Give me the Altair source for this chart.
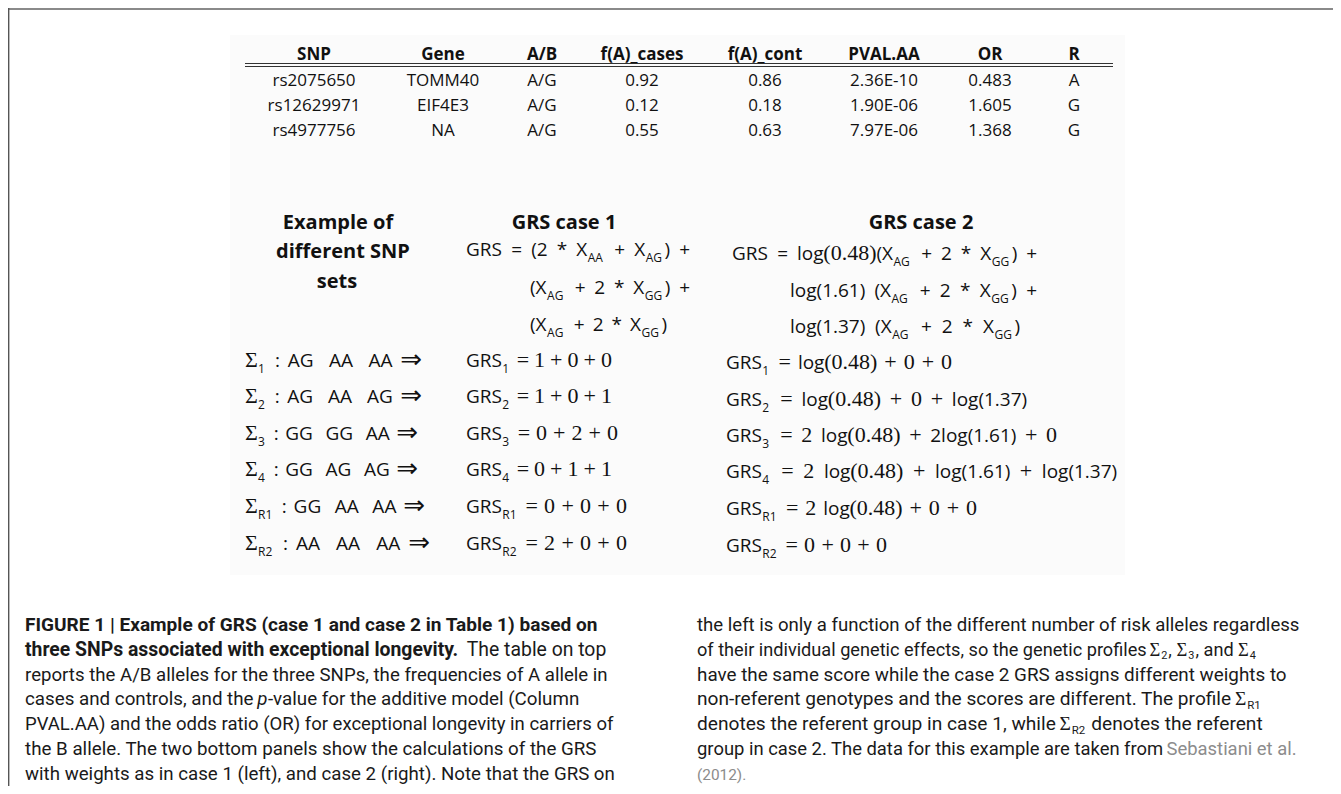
import re
import altair as alt
import pandas as pd

# ---------------- content ----------------
table_header = ["SNP", "Gene", "A/B", "f(A)_cases", "f(A)_cont", "PVAL.AA", "OR", "R"]
snp = ["rs2075650", "rs12629971", "rs4977756"]
gene = ["TOMM40", "EIF4E3", "NA"]
alleles = ["A/G", "A/G", "A/G"]
freq_cases = ["0.92", "0.12", "0.55"]
freq_cont = ["0.86", "0.18", "0.63"]
pval_aa = ["2.36E-10", "1.90E-06", "7.97E-06"]
odds_ratio = ["0.483", "1.605", "1.368"]
risk_allele = ["A", "G", "G"]

left_heading = ["Example of", "different SNP", "sets"]
case_titles = ["GRS case 1", "GRS case 2"]
case1_formula = ["GRS = (2 * X_{AA} + X_{AG}) +",
                 "(X_{AG} + 2 * X_{GG}) +",
                 "(X_{AG} + 2 * X_{GG})"]
case2_formula = ["GRS = log^r(0.48)^s(X_{AG} + 2 * X_{GG}) +",
                 "log(1.61) (X_{AG} + 2 * X_{GG}) +",
                 "log(1.37) (X_{AG} + 2 * X_{GG})"]
snp_sets = ["^rΣ^s_{1} : AG  AA  AA ^a⇒",
            "^rΣ^s_{2} : AG  AA  AG ^a⇒",
            "^rΣ^s_{3} : GG  GG  AA ^a⇒",
            "^rΣ^s_{4} : GG  AG  AG ^a⇒",
            "^rΣ^s_{R1} : GG  AA  AA ^a⇒",
            "^rΣ^s_{R2} : AA  AA  AA ^a⇒"]
grs_case1 = ["GRS_{1} ^r= 1 + 0 + 0",
             "GRS_{2} ^r= 1 + 0 + 1",
             "GRS_{3} ^r= 0 + 2 + 0",
             "GRS_{4} ^r= 0 + 1 + 1",
             "GRS_{R1} ^r= 0 + 0 + 0",
             "GRS_{R2} ^r= 2 + 0 + 0"]
grs_case2 = ["GRS_{1} ^r= ^slog^r(0.48) + 0 + 0",
             "GRS_{2} ^r= ^slog^r(0.48) + 0 + ^slog(1.37)",
             "GRS_{3} ^r= 2 ^slog^r(0.48) + ^s2log(1.61) ^r+ 0",
             "GRS_{4} ^r= 2 ^slog^r(0.48) + ^slog(1.61) ^r+ ^slog(1.37)",
             "GRS_{R1} ^r= 2 ^slog^r(0.48) + 0 + 0",
             "GRS_{R2} ^r= 0 + 0 + 0"]

caption_left = [
    [("FIGURE 1 | Example of GRS (case 1 and case 2 in Table 1) based on", "b")],
    [("three SNPs associated with exceptional longevity.", "b"), (" The table on top", "n")],
    [("reports the A/B alleles for the three SNPs, the frequencies of A allele in", "n")],
    [("cases and controls, and the ", "n"), ("p", "i"), ("-value for the additive model (Column", "n")],
    [("PVAL.AA) and the odds ratio (OR) for exceptional longevity in carriers of", "n")],
    [("the B allele. The two bottom panels show the calculations of the GRS", "n")],
    [("with weights as in case 1 (left), and case 2 (right). Note that the GRS on", "n")],
]
caption_right = [
    [("the left is only a function of the different number of risk alleles regardless", "n")],
    [("of their individual genetic effects, so the genetic profiles ", "n"), ("Σ", "S"), ("2", "u"),
     (", ", "n"), ("Σ", "S"), ("3", "u"), (", and ", "n"), ("Σ", "S"), ("4", "u")],
    [("have the same score while the case 2 GRS assigns different weights to", "n")],
    [("non-referent genotypes and the scores are different. The profile ", "n"), ("Σ", "S"), ("R1", "u")],
    [("denotes the referent group in case 1, while ", "n"), ("Σ", "S"), ("R2", "u"),
     (" denotes the referent", "n")],
    [("group in case 2. The data for this example are taken from ", "n"), ("Sebastiani et al.", "g")],
    [("(2012).", "g")],
]

# ---------------- layout (page pixel space) ----------------
W, H = 1325, 778
X0, Y0 = 8, 8
TABLE_COL_X = [314, 443, 542, 642, 765, 884, 990, 1074]
TABLE_HEADER_Y = 60
TABLE_ROW_Y = [86, 111, 136]
HEAD_LEFT_POS = [(338, 229), (343, 258), (337, 288)]
CASE_TITLE_POS = [(564, 229), (921, 229)]
CASE1_POS = [(466, 256, 690), (530, 294, 690), (530, 331, 667)]
CASE2_POS = [(732, 260, 1037), (790, 297, 1037), (790, 333, 1020)]
ROW_Y_L = [367, 403, 440, 476, 513, 550]
ROW_Y_R = [369, 406, 442, 478, 515, 552]
SETS_X0, SETS_END = 245, [422, 422, 418, 418, 425, 430]
C1_X0, C1_END = 466, [612, 612, 618, 612, 627, 627]
C2_X0, C2_END = 726, [952, 1027, 1057, 1117, 977, 887]
CAP_Y = [631 + 24.8 * i for i in range(7)]
CAP_L = (25, [610, 606, 606, 578, 614, 595, 614])
CAP_R = (697, [1296, 1257, 1285, 1262, 1262, 1296, 747])
CAP_CORR = 1.016   # measured/estimated width ratio for Roboto
SUB_PAD = 2.5      # space after a subscript

# ---------------- width tables (em) ----------------
OPEN = {' ': .26, '(': .293, ')': .293, '*': .552, '+': .571, '.': .266, ':': .266, '=': .571,
        'A': .633, 'G': .726, 'R': .631, 'S': .55, 'X': .604, 'l': .253, 'o': .604, 'g': .53,
        '⇒': .838, 'Σ': .6}
SERIF = {' ': .25, '(': .333, ')': .333, '+': .564, '.': .25, '=': .564, 'Σ': .592,
         'l': .278, 'o': .5, 'g': .5}
ARROW = {'⇒': .838}
for d in "0123456789":
    OPEN[d] = .572
    SERIF[d] = .5

_rob = {'a': 1089, 'b': 1120, 'c': 1045, 'd': 1126, 'e': 1058, 'f': 693, 'g': 1120, 'h': 1100,
        'i': 485, 'j': 477, 'k': 1012, 'l': 485, 'm': 1751, 'n': 1102, 'o': 1140, 'p': 1120,
        'q': 1130, 'r': 677, 's': 1030, 't': 655, 'u': 1101, 'v': 967, 'w': 1502, 'x': 991,
        'y': 946, 'z': 991, 'A': 1336, 'B': 1275, 'C': 1333, 'D': 1343, 'E': 1164, 'F': 1132,
        'G': 1395, 'H': 1460, 'I': 557, 'J': 1130, 'K': 1285, 'L': 1101, 'M': 1788, 'N': 1460,
        'O': 1408, 'P': 1292, 'Q': 1408, 'R': 1261, 'S': 1216, 'T': 1221, 'U': 1328, 'V': 1302,
        'W': 1817, 'X': 1285, 'Y': 1229, 'Z': 1226, ' ': 507, '.': 539, ',': 402, '(': 700,
        ')': 712, '/': 845, '-': 553, '|': 498, ':': 497}
ROBOTO = {k: v / 2048 for k, v in _rob.items()}
for d in "0123456789":
    ROBOTO[d] = 1150 / 2048


def em(text, table, default=0.55):
    return sum(table.get(ch, default) for ch in text)


# ---------------- formula layout ----------------
FSTY = {'s': dict(size=19, table=OPEN, dy=0, pad=0),
        'r': dict(size=22, table=SERIF, dy=0, pad=0),
        'a': dict(size=26, table=ARROW, dy=1, pad=0),
        'b': dict(size=12, table=OPEN, dy=6, pad=SUB_PAD)}
TOKEN = re.compile(r"\^[rsa]|_\{[^}]*\}|[^_^]+")


def parse_formula(line):
    cur = 's'
    words = []
    for w in line.split(' '):
        pieces = []
        for tok in TOKEN.findall(w):
            if tok in ('^r', '^s', '^a'):
                cur = tok[1]
            elif tok.startswith('_{'):
                pieces.append((tok[2:-1], 'b'))
            else:
                pieces.append((tok, cur))
        words.append(pieces)
    return words


def place_formula(line, x0, y0, x_end):
    words = parse_formula(line)
    widths = [[em(t, FSTY[s]['table']) * FSTY[s]['size'] + FSTY[s]['pad'] for t, s in w]
              for w in words]
    total = sum(sum(w) for w in widths)
    ngap = len(words) - 1
    gap = max((x_end - x0 - total) / ngap, 2) if ngap else 0
    x = x0
    rows = []
    for i, (w, ws) in enumerate(zip(words, widths)):
        if i > 0:
            x += gap
        for (t, s), wd in zip(w, ws):
            rows.append(dict(x=x, y=y0 + FSTY[s]['dy'], text=t, key='f' + s,
                             size=FSTY[s]['size']))
            x += wd
    return rows


# ---------------- caption layout ----------------
CSTY = {'b': dict(table=ROBOTO, f=1.025, scale=1.0, dy=0, pad=0),
        'n': dict(table=ROBOTO, f=1.0, scale=1.0, dy=0, pad=0),
        'i': dict(table=ROBOTO, f=0.98, scale=1.0, dy=0, pad=0.5),
        'g': dict(table=ROBOTO, f=1.0, scale=1.0, dy=0, pad=0),
        'S': dict(table=SERIF, f=1.0, scale=1.02, dy=0, pad=0.5),
        'u': dict(table=ROBOTO, f=1.0, scale=0.6, dy=0.2, pad=1.0)}


def place_caption(segs, x0, y0, x_end):
    natural = sum((em(t, CSTY[s]['table']) * CSTY[s]['f'] * CSTY[s]['scale']) * CAP_CORR
                  for t, s in segs)
    pads = sum(CSTY[s]['pad'] for t, s in segs)
    size = (x_end - x0 - pads) / natural
    x = x0
    rows = []
    for t, s in segs:
        st = CSTY[s]
        fs = size * st['scale']
        lead = len(t) - len(t.lstrip(' '))
        trail = len(t) - len(t.rstrip(' '))
        core = t.strip(' ')
        x += lead * ROBOTO[' '] * size * CAP_CORR
        rows.append(dict(x=x, y=y0 + st['dy'] * size, text=core, key='c' + s, size=fs))
        x += em(core, st['table']) * st['f'] * fs * CAP_CORR + st['pad']
        x += trail * ROBOTO[' '] * size * CAP_CORR
    return rows


# ---------------- build tables ----------------
cells = []
for c, h in enumerate(table_header):
    cells.append(dict(x=TABLE_COL_X[c], y=TABLE_HEADER_Y, text=h, key='th', size=17))
cols = [snp, gene, alleles, freq_cases, freq_cont, pval_aa, odds_ratio, risk_allele]
for c, col in enumerate(cols):
    for r, v in enumerate(col):
        cells.append(dict(x=TABLE_COL_X[c], y=TABLE_ROW_Y[r], text=v, key='td', size=17))
for (x, y), t in zip(HEAD_LEFT_POS, left_heading):
    cells.append(dict(x=x, y=y, text=t, key='hd', size=20))
for (x, y), t in zip(CASE_TITLE_POS, case_titles):
    cells.append(dict(x=x, y=y, text=t, key='hd', size=20))
centered = pd.DataFrame(cells)

pieces = []
for (x0, y0, xe), line in zip(CASE1_POS, case1_formula):
    pieces += place_formula(line, x0, y0, xe)
for (x0, y0, xe), line in zip(CASE2_POS, case2_formula):
    pieces += place_formula(line, x0, y0, xe)
for i, line in enumerate(snp_sets):
    pieces += place_formula(line, SETS_X0, ROW_Y_L[i], SETS_END[i])
for i, line in enumerate(grs_case1):
    pieces += place_formula(line, C1_X0, ROW_Y_L[i], C1_END[i])
for i, line in enumerate(grs_case2):
    pieces += place_formula(line, C2_X0, ROW_Y_R[i], C2_END[i])
for i, segs in enumerate(caption_left):
    pieces += place_caption(segs, CAP_L[0], CAP_Y[i], CAP_L[1][i])
for i, segs in enumerate(caption_right):
    pieces += place_caption(segs, CAP_R[0], CAP_Y[i], CAP_R[1][i])
left_df = pd.DataFrame(pieces)

rules = pd.DataFrame([
    dict(x=245, x2=1113, y=63.5, y2=63.5, w=1.2, c="#333333"),
    dict(x=245, x2=1113, y=66.5, y2=66.5, w=1.2, c="#333333"),
    dict(x=8, x2=1341, y=9, y2=9, w=2, c="#8a8a8a"),
    dict(x=8.7, x2=8.7, y=8, y2=794, w=1.4, c="#555555"),
])
box = pd.DataFrame([dict(x=230, x2=1125, y=35, y2=575)])

xs = alt.Scale(domain=[X0, X0 + W], nice=False, zero=False)
ys = alt.Scale(domain=[Y0, Y0 + H], nice=False, zero=False, reverse=True)
X = alt.X("x:Q", scale=xs, axis=None)
Y = alt.Y("y:Q", scale=ys, axis=None)
SZ = alt.Size("size:Q", scale=None, legend=None)

layers = []
layers.append(alt.Chart(box).mark_rect(color="#fbfbfb").encode(x=X, x2="x2:Q", y=Y, y2="y2:Q"))
layers.append(alt.Chart(rules).mark_rule().encode(
    x=X, x2="x2:Q", y=Y, y2="y2:Q",
    color=alt.Color("c:N", scale=None, legend=None),
    strokeWidth=alt.StrokeWidth("w:Q", scale=None, legend=None)))

CENTER_STY = {'th': dict(font="Open Sans", fontWeight="bold"),
              'td': dict(font="Open Sans", fontWeight="normal"),
              'hd': dict(font="Open Sans", fontWeight="bold")}
for k, sty in CENTER_STY.items():
    d = centered[centered.key == k]
    layers.append(alt.Chart(d).mark_text(align="center", baseline="alphabetic", color="#111111", **sty)
                  .encode(x=X, y=Y, text="text:N", size=SZ))

LEFT_STY = {'fs': dict(font="Open Sans, DejaVu Sans", color="#111111"),
            'fr': dict(font="Liberation Serif", color="#111111"),
            'fa': dict(font="DejaVu Sans", color="#111111"),
            'fb': dict(font="Open Sans", color="#111111"),
            'cb': dict(font="Roboto", fontWeight="bold", color="#1a1a1a"),
            'cn': dict(font="Roboto", color="#1a1a1a"),
            'ci': dict(font="Roboto", fontStyle="italic", color="#1a1a1a"),
            'cg': dict(font="Roboto", color="#8c8c8c"),
            'cS': dict(font="Liberation Serif", color="#1a1a1a"),
            'cu': dict(font="Roboto", color="#1a1a1a")}
for k, sty in LEFT_STY.items():
    d = left_df[left_df.key == k]
    if len(d) == 0:
        continue
    layers.append(alt.Chart(d).mark_text(align="left", baseline="alphabetic", **sty)
                  .encode(x=X, y=Y, text="text:N", size=SZ))

chart = alt.layer(*layers).properties(width=W, height=H, padding=0, autosize="none",
                                      background="white").configure_view(strokeWidth=0)
chart.save("out.html", embed_options={"renderer": "svg", "actions": False})
